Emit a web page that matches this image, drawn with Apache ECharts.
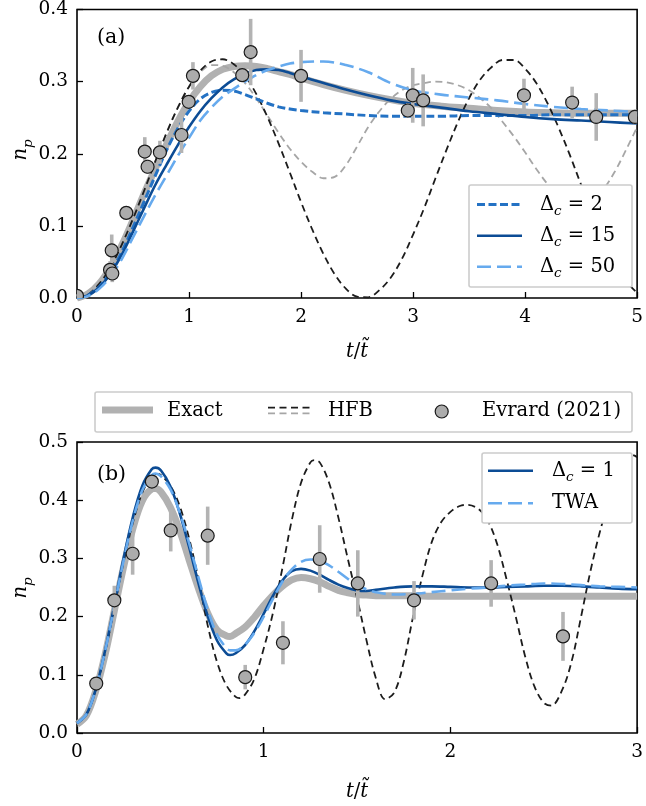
<!DOCTYPE html>
<html>
<head>
<meta charset="utf-8">
<script src="https://cdn.jsdelivr.net/npm/echarts@6/dist/echarts.min.js"></script>
<style>
  html, body { margin: 0; padding: 0; background: #ffffff; }
  #chart { width: 646px; height: 806px; }
</style>
</head>
<body>
<div id="chart"></div>
<script>
// ---------- Panel (a): photon-pair density n_p vs t/t~ for several cutoffs ----------
const xTicksA = [0, 1, 2, 3, 4, 5];
const yTicksA = [0.0, 0.1, 0.2, 0.3, 0.4];

// HFB curves (black and grey dashed), sampled every 0.1
const tHfbA = [0,0.1,0.2,0.3,0.4,0.5,0.6,0.7,0.8,0.9,1,1.1,1.2,1.3,1.4,1.5,1.6,1.7,1.8,1.9,2,2.1,2.2,2.3,2.4,2.5,2.6,2.7,2.8,2.9,3,3.1,3.2,3.3,3.4,3.5,3.6,3.7,3.8,3.9,4,4.1,4.2,4.3,4.4,4.5,4.6,4.7,4.8,4.9,5];
const hfbBlackA = [0,0.005,0.02,0.043,0.074,0.110,0.149,0.190,0.229,0.264,0.293,
  0.315,0.328,0.331,0.324,0.308,0.283,0.251,0.214,0.174,0.133,
  0.095,0.061,0.033,0.013,0.002,0.001,0.011,0.028,0.054,0.088,
  0.125,0.166,0.206,0.244,0.277,0.303,0.320,0.330,0.330,0.318,
  0.298,0.270,0.236,0.198,0.157,0.118,0.080,0.049,0.024,0.007];
const hfbGrayA = [0,0.005,0.02,0.043,0.074,0.110,0.149,0.190,0.229,0.264,0.293,
  0.313,0.323,0.322,0.313,0.298,0.277,0.253,0.229,0.207,0.189,
  0.175,0.166,0.168,0.184,0.21,0.237,0.259,0.276,0.288,0.295,
  0.298,0.3,0.299,0.295,0.288,0.277,0.263,0.244,0.224,0.202,
  0.179,0.158,0.142,0.132,0.13,0.136,0.151,0.175,0.205,0.237];

// Exact and cutoff curves
const tA = [0,0.1,0.2,0.3,0.4,0.5,0.6,0.7,0.8,0.9,1,1.1,1.2,1.3,1.4,1.5,1.6,1.7,1.8,1.9,2,2.2,2.4,2.6,2.8,3,3.25,3.5,3.75,4,4.25,4.5,4.75,5];
const exactA = [0,0.006,0.02,0.043,0.073,0.108,0.145,0.18,0.213,0.245,0.272,0.293,0.308,0.317,0.321,0.322,0.321,0.318,0.314,0.310,0.305,0.296,0.288,0.281,0.275,0.270,0.266,0.263,0.260,0.258,0.257,0.256,0.256,0.256];
const dc2A = [0,0.004,0.016,0.036,0.064,0.098,0.134,0.17,0.205,0.235,0.259,0.276,0.285,0.288,0.287,0.282,0.276,0.27,0.265,0.262,0.26,0.257,0.255,0.253,0.252,0.252,0.252,0.253,0.253,0.253,0.254,0.254,0.254,0.254];
const dc15A = [0,0.004,0.015,0.034,0.06,0.092,0.125,0.157,0.185,0.212,0.237,0.259,0.277,0.292,0.303,0.311,0.316,0.317,0.316,0.312,0.307,0.298,0.289,0.281,0.274,0.269,0.264,0.259,0.255,0.251,0.248,0.246,0.244,0.242];
const dc50A = [0,0.003,0.013,0.03,0.054,0.084,0.114,0.143,0.17,0.197,0.222,0.246,0.264,0.279,0.29,0.3,0.309,0.316,0.321,0.325,0.327,0.328,0.323,0.313,0.298,0.288,0.282,0.278,0.274,0.269,0.265,0.262,0.26,0.258];

// Evrard (2021) measurements with error bars
const expTA = [0.0,0.295,0.315,0.31,0.44,0.605,0.63,0.74,0.933,0.997,1.035,1.475,1.55,2.0,2.953,2.997,3.09,3.99,4.42,4.635,4.98];
const expNA = [0.003,0.039,0.034,0.066,0.118,0.203,0.182,0.202,0.226,0.272,0.308,0.309,0.341,0.308,0.260,0.281,0.274,0.281,0.271,0.251,0.251];
const expErrA = [0,0.012,0.012,0.022,0,0.02,0.01,0.016,0.025,0.008,0.019,0.006,0.046,0.036,0.01,0.038,0.036,0.023,0.022,0.033,0.01];

// ---------- Panel (b): Delta_c = 1 and TWA ----------
const xTicksB = [0, 1, 2, 3];
const yTicksB = [0.0, 0.1, 0.2, 0.3, 0.4, 0.5];

const tB = [0,0.05,0.1,0.15,0.2,0.25,0.3,0.35,0.4,0.42,0.45,0.5,0.55,0.6,0.65,0.7,0.75,0.8,0.82,0.85,0.9,0.95,1,1.05,1.1,1.15,1.2,1.25,1.3,1.35,1.4,1.45,1.5,1.55,1.6,1.7,1.8,1.9,2,2.1,2.2,2.3,2.4,2.5,2.6,2.7,2.8,2.9,3];
const exactB = [0.015,0.03,0.072,0.134,0.21,0.286,0.352,0.399,0.419,0.42,0.414,0.388,0.348,0.298,0.249,0.206,0.177,0.167,0.166,0.171,0.182,0.199,0.219,0.237,0.252,0.263,0.267,0.265,0.26,0.252,0.245,0.241,0.238,0.237,0.236,0.236,0.236,0.235,0.235,0.235,0.235,0.235,0.235,0.235,0.235,0.235,0.235,0.235,0.235];
const dc1B = [0.017,0.032,0.075,0.141,0.220,0.301,0.372,0.425,0.453,0.456,0.451,0.424,0.378,0.320,0.258,0.201,0.159,0.137,0.134,0.137,0.151,0.175,0.205,0.236,0.262,0.278,0.282,0.279,0.272,0.263,0.255,0.249,0.245,0.244,0.246,0.25,0.252,0.252,0.251,0.25,0.25,0.251,0.252,0.253,0.253,0.252,0.25,0.248,0.247];
const twaB = [0.017,0.032,0.075,0.14,0.218,0.297,0.366,0.417,0.443,0.446,0.441,0.419,0.379,0.327,0.268,0.212,0.169,0.146,0.142,0.142,0.152,0.172,0.2,0.231,0.26,0.281,0.294,0.298,0.296,0.288,0.277,0.265,0.254,0.247,0.242,0.238,0.239,0.242,0.245,0.248,0.25,0.253,0.255,0.257,0.256,0.254,0.252,0.251,0.25];

const tHfbB = [0,0.05,0.1,0.15,0.2,0.25,0.3,0.35,0.4,0.43,0.45,0.5,0.55,0.6,0.65,0.7,0.75,0.8,0.85,0.87,0.9,0.95,1,1.05,1.1,1.15,1.2,1.25,1.27,1.3,1.35,1.4,1.45,1.5,1.55,1.6,1.65,1.7,1.75,1.8,1.85,1.9,1.95,2,2.05,2.09,2.15,2.2,2.25,2.3,2.35,2.4,2.45,2.5,2.54,2.6,2.65,2.7,2.75,2.8,2.85,2.9,2.95,2.97,3];
const hfbB = [0.017,0.031,0.074,0.138,0.215,0.294,0.362,0.413,0.441,0.445,0.443,0.425,0.39,0.335,0.265,0.185,0.122,0.082,0.062,0.06,0.066,0.093,0.145,0.207,0.283,0.365,0.43,0.465,0.469,0.465,0.43,0.37,0.3,0.232,0.16,0.095,0.058,0.07,0.122,0.2,0.27,0.328,0.362,0.38,0.39,0.392,0.385,0.365,0.325,0.265,0.2,0.132,0.08,0.052,0.047,0.075,0.124,0.2,0.278,0.345,0.4,0.445,0.474,0.478,0.474];

const expTB = [0.103,0.2,0.298,0.401,0.502,0.70,0.901,1.103,1.30,1.504,1.805,2.218,2.603];
const expNB = [0.085,0.228,0.308,0.432,0.348,0.339,0.096,0.155,0.299,0.257,0.228,0.257,0.166];
const expErrB = [0.004,0.025,0.036,0.008,0.036,0.05,0.021,0.037,0.058,0.057,0.033,0.04,0.042];

// ---------- styling ----------
const FONT_CSS = '"DejaVu Serif", serif';
const FS_TICK = 18.5;
const FS = 19.5;
const COL = {
  exact: '#b1b1b1',
  hfb: '#1c1c1c',
  hfbGray: '#a6a6a6',
  dc2: '#2472c4',
  dark: '#0c4c95',
  light: '#66aaee',
  point: '#acacac',
  bar: '#b3b3b3'
};
const DASH = { hfb: [7, 4.5], dc2: [8, 3.5], light: [14, 6] };

const zip = (xs, ys) => xs.map((x, i) => [x, ys[i]]);
const zip3 = (xs, ys, es) => xs.map((x, i) => [x, ys[i], es[i]]);

function curve(g, xs, ys, color, width, dash, z) {
  return {
    type: 'line', xAxisIndex: g, yAxisIndex: g,
    data: zip(xs, ys), showSymbol: false, symbol: 'none',
    smooth: 0.35, silent: true, z: z, clip: true,
    lineStyle: { color: color, width: width, type: dash || 'solid', cap: 'butt' }
  };
}

// clip rectangle of the plotting area, so markers on the frame are cut like the curves
function plotClip(params) {
  const cs = params.coordSys;
  return { type: 'rect', shape: { x: cs.x, y: cs.y, width: cs.width, height: cs.height } };
}

function errorBars(g, xs, ys, es) {
  return {
    type: 'custom', xAxisIndex: g, yAxisIndex: g, z: 5, silent: true,
    data: zip3(xs, ys, es),
    encode: { x: 0, y: 1 },
    renderItem: function (params, api) {
      const t = api.value(0), v = api.value(1), e = api.value(2);
      if (!e) return null;
      const p1 = api.coord([t, v - e]);
      const p2 = api.coord([t, v + e]);
      return {
        type: 'line',
        shape: { x1: p1[0], y1: p1[1], x2: p2[0], y2: p2[1] },
        style: { stroke: COL.bar, lineWidth: 3.6 }
      };
    }
  };
}

function points(g, xs, ys) {
  return {
    type: 'custom', xAxisIndex: g, yAxisIndex: g, z: 6, silent: true,
    data: zip(xs, ys),
    encode: { x: 0, y: 1 },
    renderItem: function (params, api) {
      const p = api.coord([api.value(0), api.value(1)]);
      return {
        type: 'group',
        clipPath: plotClip(params),
        children: [{
          type: 'circle',
          shape: { cx: p[0], cy: p[1], r: 6.5 },
          style: { fill: COL.point, stroke: '#1a1a1a', lineWidth: 1.2 }
        }]
      };
    }
  };
}

function xAxisCfg(g, ticks) {
  return {
    gridIndex: g, type: 'value', min: ticks[0], max: ticks[ticks.length - 1], interval: 1,
    axisLine: { show: false },
    axisTick: { show: true, inside: true, length: 6, lineStyle: { color: '#000', width: 1.3 } },
    splitLine: { show: false },
    axisLabel: { color: '#000', fontFamily: FONT_CSS, fontSize: FS_TICK, margin: 10,
      formatter: v => String(Math.round(v)) }
  };
}
function yAxisCfg(g, ticks) {
  return {
    gridIndex: g, type: 'value', min: ticks[0], max: ticks[ticks.length - 1], interval: 0.1,
    axisLine: { show: false },
    axisTick: { show: true, inside: true, length: 6, lineStyle: { color: '#000', width: 1.3 } },
    splitLine: { show: false },
    axisLabel: { color: '#000', fontFamily: FONT_CSS, fontSize: FS_TICK, margin: 9,
      formatter: v => v.toFixed(1) }
  };
}

// rich text styles for the math labels
const RICH = {
  r: { fontFamily: FONT_CSS, fontSize: FS, lineHeight: 28, fill: '#000', color: '#000' },
  big: { fontFamily: FONT_CSS, fontSize: 20.5, lineHeight: 28, fill: '#000', color: '#000' },
  i: { fontFamily: FONT_CSS, fontStyle: 'italic', fontSize: FS, lineHeight: 28, fill: '#000', color: '#000' },
  s: { fontFamily: FONT_CSS, fontStyle: 'italic', fontSize: 13.5, lineHeight: 17, verticalAlign: 'bottom', fill: '#000', color: '#000' }
};

function label(x, y, text, extra) {
  const el = {
    type: 'text', x: x, y: y, z: 101, silent: true,
    style: { text: text, rich: RICH, fill: '#000', font: FS + 'px ' + FONT_CSS,
      align: 'left', verticalAlign: 'middle' }
  };
  if (extra) {
    if (extra.rotation !== undefined) el.rotation = extra.rotation;
    if (extra.align) el.style.align = extra.align;
  }
  return el;
}
function hline(x1, x2, y, color, width, dash) {
  return { type: 'line', z: 101, silent: true,
    shape: { x1: x1, y1: y, x2: x2, y2: y },
    style: { stroke: color, lineWidth: width, lineDash: dash || null } };
}
function box(x, y, w, h) {
  return { type: 'rect', z: 100, silent: true,
    shape: { x: x, y: y, width: w, height: h, r: 2 },
    style: { fill: '#ffffff', stroke: '#cccccc', lineWidth: 1.6 } };
}

const NP = '{i|n}{s|p}';
const TT = '{i|t}{r|/}{i|t\u0303}';

const graphicElements = [
  // panel tags
  label(97, 38, '{big|(a)}'),
  label(97, 475, '{big|(b)}'),
  // axis titles
  label(21, 150, NP, { rotation: Math.PI / 2, align: 'center' }),
  label(21, 588, NP, { rotation: Math.PI / 2, align: 'center' }),
  label(357, 352, TT, { align: 'center' }),
  label(357, 792, TT, { align: 'center' }),

  // legend, panel (a)
  box(469, 185, 163, 102),
  hline(477, 522, 204.5, COL.dc2, 3, DASH.dc2),
  label(540, 204.5, '{r|\u0394}{s|c}{r| = 2}'),
  hline(477, 522, 235.7, COL.dark, 2.6),
  label(540, 235.7, '{r|\u0394}{s|c}{r| = 15}'),
  hline(477, 522, 266.7, COL.light, 2.6, DASH.light),
  label(540, 266.7, '{r|\u0394}{s|c}{r| = 50}'),

  // shared legend between the panels
  box(95, 392, 537, 40),
  hline(102, 153, 410, COL.exact, 7),
  label(167, 411, '{r|Exact}'),
  hline(268, 312, 407.7, COL.hfb, 1.8, DASH.hfb),
  hline(268, 312, 413.3, COL.hfbGray, 1.8, DASH.hfb),
  label(328, 411, '{r|HFB}'),
  { type: 'circle', z: 101, silent: true, shape: { cx: 441.7, cy: 411.5, r: 6.5 },
    style: { fill: COL.point, stroke: '#1a1a1a', lineWidth: 1.2 } },
  label(482, 411, '{r|Evrard (2021)}'),

  // legend, panel (b)
  box(482, 453, 150, 70),
  hline(488, 533, 470.7, COL.dark, 2.6),
  label(552, 470.7, '{r|\u0394}{s|c}{r| = 1}'),
  hline(488, 533, 503.3, COL.light, 2.6, DASH.light),
  label(552, 503.3, '{r|TWA}')
];

const option = {
  animation: false,
  backgroundColor: '#ffffff',
  textStyle: { fontFamily: FONT_CSS },
  grid: [
    { left: 77, top: 7, width: 565, height: 291, show: true, borderColor: '#000', borderWidth: 1.6, backgroundColor: 'rgba(0,0,0,0)' },
    { left: 77, top: 442, width: 564, height: 291, show: true, borderColor: '#000', borderWidth: 1.6, backgroundColor: 'rgba(0,0,0,0)' }
  ],
  xAxis: [xAxisCfg(0, xTicksA), xAxisCfg(1, xTicksB)],
  yAxis: [yAxisCfg(0, yTicksA), yAxisCfg(1, yTicksB)],
  series: [
    // panel (a)
    curve(0, tA, exactA, COL.exact, 7, null, 2),
    curve(0, tHfbA, hfbGrayA, COL.hfbGray, 1.8, DASH.hfb, 3),
    curve(0, tHfbA, hfbBlackA, COL.hfb, 1.8, DASH.hfb, 3),
    curve(0, tA, dc2A, COL.dc2, 3, DASH.dc2, 4),
    curve(0, tA, dc15A, COL.dark, 2.6, null, 4),
    curve(0, tA, dc50A, COL.light, 2.6, DASH.light, 4),
    errorBars(0, expTA, expNA, expErrA),
    points(0, expTA, expNA),
    // panel (b)
    curve(1, tB, exactB, COL.exact, 7, null, 2),
    curve(1, tHfbB, hfbB, COL.hfb, 1.8, DASH.hfb, 3),
    curve(1, tB, dc1B, COL.dark, 2.6, null, 4),
    curve(1, tB, twaB, COL.light, 2.6, DASH.light, 4),
    errorBars(1, expTB, expNB, expErrB),
    points(1, expTB, expNB)
  ],
  graphic: { elements: graphicElements }
};

const chart = echarts.init(document.getElementById('chart'), null, { renderer: 'canvas' });
chart.setOption(option);
</script>
</body>
</html>
